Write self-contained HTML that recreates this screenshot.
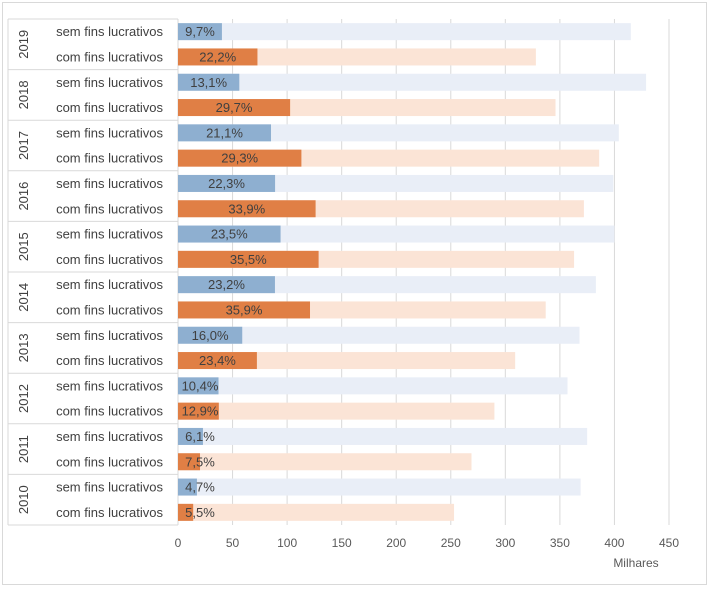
<!DOCTYPE html>
<html><head><meta charset="utf-8"><style>
body{margin:0;background:#fff;font-family:"Liberation Sans",sans-serif}
svg text{font-family:"Liberation Sans",sans-serif}
</style></head><body>
<svg id="chart" width="710" height="589" xmlns="http://www.w3.org/2000/svg">
<rect x="2.5" y="2.5" width="704" height="582" fill="#fff" stroke="#d9d9d9"/>
<g id="grid"></g><g id="bars"></g><g id="labels"></g>
</svg>
<script>
const years=["2019","2018","2017","2016","2015","2014","2013","2012","2011","2010"];
const semTotal=[415,429,404,399,400,383,368,357,375,369];
const comTotal=[328,346,386,372,363,337,309,290,269,253];
const semPct=[9.7,13.1,21.1,22.3,23.5,23.2,16.0,10.4,6.1,4.7];
const comPct=[22.2,29.7,29.3,33.9,35.5,35.9,23.4,12.9,7.5,5.5];
const ticks=[0,50,100,150,200,250,300,350,400,450];
const NS="http://www.w3.org/2000/svg";
const x0=178,pxPer=491/450,topY=19,rowH=25.3,barH=17;
const X=v=>x0+v*pxPer;
const Y=i=>topY+rowH*(i+0.5);
function el(t,a,p,txt){const e=document.createElementNS(NS,t);for(const k in a)e.setAttribute(k,a[k]);if(txt!==undefined)e.textContent=txt;document.getElementById(p).appendChild(e);return e;}
ticks.forEach(t=>{
 const g=el('line',{x1:X(t),x2:X(t),y1:topY,y2:525,stroke:'#d9d9d9','stroke-width':1},'grid');
 
 
 const l=el('text',{x:X(t),y:547,'text-anchor':'middle','font-size':12,fill:'#595959'},'labels',String(t));
 
 
});
const xt=el('text',{x:636,y:567,'text-anchor':'middle','font-size':12,fill:'#595959'},'labels','Milhares');


const fmt=v=>v.toFixed(1).replace('.',',')+'%';
years.forEach((yr,g)=>{
 const gy=topY+g*2*rowH;
 const sep=el('line',{x1:8,x2:x0,y1:gy,y2:gy,stroke:'#d9d9d9'},'grid');
 
 
 const yl=el('text',{transform:`translate(28,${gy+rowH}) rotate(-90)`,'text-anchor':'middle','font-size':13,fill:'#404040'},'labels',yr);
 
 
 [[semTotal,semPct,'#e9eef7','#8eafd0','sem fins lucrativos','sem'],[comTotal,comPct,'#fbe4d6','#e07f45','com fins lucrativos','com']].forEach((s,k)=>{
  const i=g*2+k,cy=Y(i),tot=s[0][g],pct=s[1][g],dv=tot*pct/100;
  const b=el('rect',{x:X(0),y:cy-barH/2,width:X(tot)-X(0),height:barH,fill:s[2]},'bars');
  
  
  const d=el('rect',{x:X(0),y:cy-barH/2,width:X(dv)-X(0),height:barH,fill:s[3]},'bars');
  
  
  const cx=Math.max(X(dv/2),X(0)+22);
  const v=el('text',{x:cx,y:cy+4.5,'text-anchor':'middle','font-size':13,fill:'#404040'},'labels',fmt(pct));
  
  
  const c=el('text',{x:163,y:cy+4.5,'text-anchor':'end','font-size':13,fill:'#404040'},'labels',s[4]);
  
  
 });
});
const b1=el('line',{x1:8,x2:x0,y1:525,y2:525,stroke:'#d9d9d9'},'grid');


const b2=el('line',{x1:8,x2:8,y1:topY,y2:525,stroke:'#d9d9d9'},'grid');


</script>
</body></html>
